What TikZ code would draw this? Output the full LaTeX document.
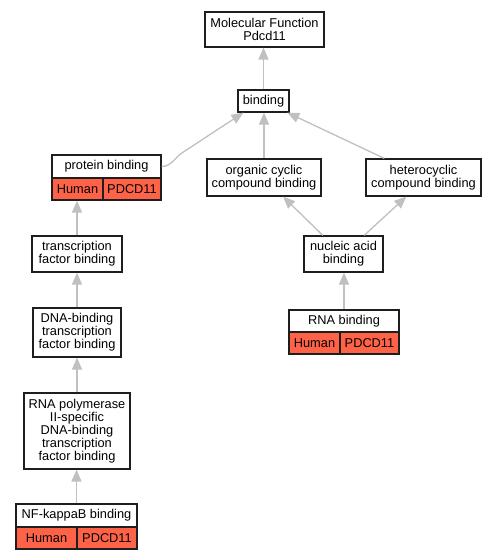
\documentclass[tikz,border=0pt]{standalone}
\usepackage{fontspec}
\setmainfont{Liberation Sans}
\usetikzlibrary{arrows.meta}
\definecolor{cellred}{RGB}{255,99,71}
\definecolor{edgegray}{RGB}{192,192,192}
\definecolor{boxline}{RGB}{30,30,30}
\begin{document}
\begin{tikzpicture}[x=1pt,y=-1pt]
\tikzset{
  gobox/.style={draw=boxline, line width=1.2pt, fill=white, inner sep=0pt, align=center,
    font=\fontsize{12.8}{13}\selectfont, text=black},
  cell/.style={gobox, fill=cellred},
  edge/.style={draw=edgegray, line width=1.3pt, -{Triangle[length=12pt,width=10pt]}}
}
\useasboundingbox[fill=white] (0,0) rectangle (497,560);

\node[gobox, minimum width=119pt, minimum height=35pt] (mf) at (264.5,29.5) {Molecular Function\\Pdcd11};
\node[gobox, minimum width=51pt, minimum height=22pt] (bind) at (263.5,101) {binding};

\node[gobox, minimum width=109pt, minimum height=23pt] (prot) at (106.5,166.5) {protein binding};
\node[cell, minimum width=51pt, minimum height=22pt] (phum) at (77.5,189) {Human};
\node[cell, minimum width=58pt, minimum height=22pt] (ppd) at (132,189) {PDCD11};

\node[gobox, minimum width=114pt, minimum height=37pt] (orgc) at (264,177.5) {organic cyclic\\compound binding};
\node[gobox, minimum width=115pt, minimum height=37pt] (het) at (423.5,177.5) {heterocyclic\\compound binding};
\node[gobox, minimum width=79pt, minimum height=36pt] (nuc) at (343.5,254) {nucleic acid\\binding};

\node[gobox, minimum width=110pt, minimum height=22pt] (rna) at (344,321) {RNA binding};
\node[cell, minimum width=51pt, minimum height=22pt] (rhum) at (314.5,343) {Human};
\node[cell, minimum width=59pt, minimum height=22pt] (rpd) at (369.5,343) {PDCD11};

\node[gobox, minimum width=90pt, minimum height=36pt] (tf) at (77,254) {transcription\\factor binding};
\node[gobox, minimum width=88pt, minimum height=49pt] (dna) at (77,332.5) {DNA-binding\\transcription\\factor binding};
\node[gobox, minimum width=106pt, minimum height=76pt] (pol) at (77,431) {RNA polymerase\\II-specific\\DNA-binding\\transcription\\factor binding};

\node[gobox, minimum width=121pt, minimum height=23pt] (nf) at (76.5,515.5) {NF-kappaB binding};
\node[cell, minimum width=61pt, minimum height=22pt] (nhum) at (46.5,538) {Human};
\node[cell, minimum width=60pt, minimum height=22pt] (npd) at (107,538) {PDCD11};

\draw[edge] (bind.north) -- (bind.north |- mf.south);
\draw[edge] (orgc.north) -- (orgc.north |- bind.south);
\draw[edge] (het.154.3) -- (bind.334.9);
\draw[edge] (prot.east) .. controls +(10,0) and +(-8,5) .. +(21,-14) -- (bind.210.7);
\draw[edge] (nuc.138.7) -- (orgc.315.8);
\draw[edge] (nuc.42.7) -- (het.228.3);
\draw[edge] (rna.north) -- (rna.north |- nuc.south);
\draw[edge] (tf.north) -- (tf.north |- phum.south);
\draw[edge] (dna.north) -- (dna.north |- tf.south);
\draw[edge] (pol.north) -- (pol.north |- dna.south);
\draw[edge] (nf.north) -- (nf.north |- pol.south);
\end{tikzpicture}
\end{document}
